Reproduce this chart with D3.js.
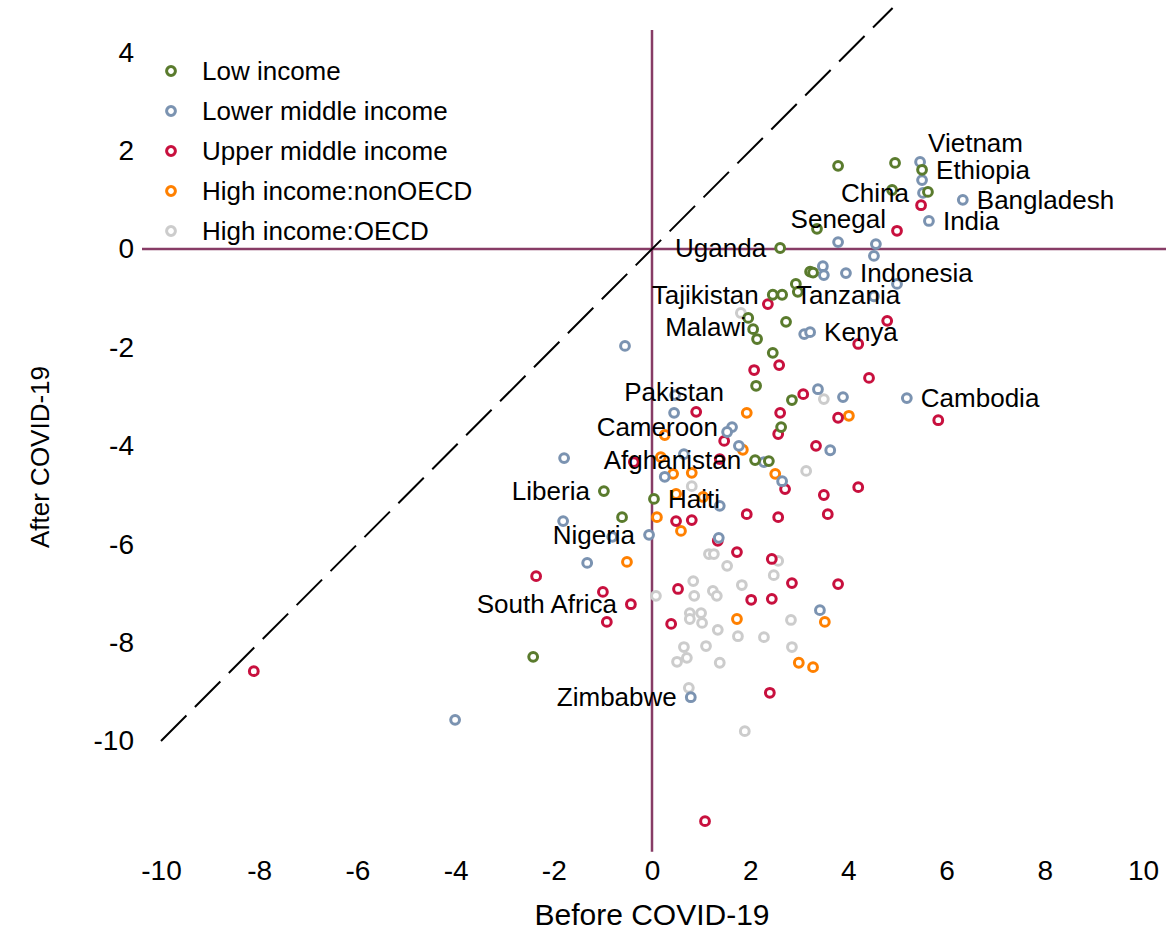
<!DOCTYPE html>
<html>
<head>
<meta charset="utf-8">
<script src="https://cdn.jsdelivr.net/npm/d3@7"></script>
<style>
  body { margin: 0; background: #fff; }
  text { font-family: "Liberation Sans", Arial, sans-serif; fill: #000; }
</style>
</head>
<body>
<div id="svg-container"></div>
<script>
// growth before / after COVID-19, one array per income group: [before, after]
var lowIncome = [
  [3.79, 1.69], [4.95, 1.75], [5.50, 1.61], [4.89, 1.20], [5.62, 1.16],
  [3.36, 0.41], [2.61, 0.02], [3.22, -0.46], [3.28, -0.48], [2.93, -0.71],
  [2.97, -0.87], [2.46, -0.93], [2.65, -0.93], [1.96, -1.40], [2.06, -1.63],
  [2.14, -1.83], [2.73, -1.48], [2.46, -2.11], [2.12, -2.78], [2.85, -3.07],
  [2.63, -3.62], [2.10, -4.29], [2.38, -4.31], [0.04, -5.08], [-0.98, -4.92],
  [-0.61, -5.45], [-2.42, -8.29]
];
var lowerMiddle = [
  [5.46, 1.77], [5.50, 1.40], [5.52, 1.14], [6.33, 1.00], [5.64, 0.57],
  [3.79, 0.14], [4.56, 0.10], [4.52, -0.14], [3.48, -0.35], [3.50, -0.53],
  [3.95, -0.49], [4.99, -0.71], [4.52, -0.96], [3.10, -1.73], [3.22, -1.69],
  [-0.55, -1.97], [3.38, -2.85], [3.89, -3.01], [5.19, -3.03], [0.47, -2.97],
  [0.45, -3.33], [1.63, -3.62], [1.53, -3.72], [1.77, -4.00], [2.28, -4.33],
  [3.63, -4.09], [2.65, -4.72], [0.65, -4.17], [0.26, -4.63], [1.38, -5.22],
  [-1.79, -4.25], [-1.81, -5.53], [-0.81, -5.85], [-0.06, -5.81], [-1.32, -6.38],
  [1.36, -5.87], [3.42, -7.34], [0.79, -9.11], [-4.01, -9.57]
];
var upperMiddle = [
  [5.48, 0.89], [4.99, 0.37], [2.36, -1.12], [4.79, -1.46], [4.20, -1.93],
  [2.08, -2.46], [2.59, -2.36], [4.42, -2.62], [3.08, -2.95], [0.90, -3.31],
  [2.61, -3.33], [3.79, -3.43], [5.83, -3.48], [2.57, -3.76], [1.47, -3.90],
  [3.34, -4.00], [-0.37, -4.33], [1.38, -4.27], [2.71, -4.88], [3.50, -5.00],
  [4.20, -4.84], [3.58, -5.39], [1.93, -5.39], [2.57, -5.45], [0.49, -5.53],
  [0.81, -5.51], [1.34, -5.93], [1.73, -6.16], [2.44, -6.30], [2.85, -6.79],
  [3.79, -6.81], [0.53, -6.91], [2.02, -7.13], [2.44, -7.11], [0.39, -7.62],
  [-2.36, -6.65], [-1.00, -6.97], [-0.43, -7.22], [-0.92, -7.58], [2.40, -9.02],
  [-8.11, -8.58], [1.08, -11.63]
];
var highNonOECD = [
  [1.93, -3.33], [4.01, -3.39], [0.26, -3.78], [1.85, -4.08], [0.18, -4.23],
  [2.51, -4.57], [0.43, -4.57], [0.81, -4.55], [0.49, -4.98], [1.04, -5.04],
  [0.10, -5.45], [0.59, -5.73], [-0.51, -6.36], [1.73, -7.52], [3.52, -7.58],
  [2.99, -8.41], [3.28, -8.50]
];
var highOECD = [
  [1.81, -1.30], [3.50, -3.05], [3.14, -4.51], [0.81, -4.82], [0.08, -7.05],
  [1.16, -6.20], [1.26, -6.20], [1.53, -6.44], [2.57, -6.34], [2.48, -6.63],
  [0.84, -6.75], [1.83, -6.83], [0.86, -7.05], [1.24, -6.95], [1.32, -7.05],
  [0.77, -7.40], [1.00, -7.40], [1.02, -7.60], [0.77, -7.52], [1.34, -7.74],
  [1.75, -7.87], [2.28, -7.89], [2.83, -7.54], [2.85, -8.09], [0.65, -8.09],
  [0.71, -8.31], [0.51, -8.39], [1.10, -8.07], [1.38, -8.41], [0.75, -8.92],
  [1.89, -9.80]
];

var groupNames = ["Low income", "Lower middle income", "Upper middle income",
                  "High income:nonOECD", "High income:OECD"];
var groupColors = ["#5a7b2d", "#7b93b1", "#c8103e", "#ff8000", "#cccccc"];

// labelled countries: name, before, after, clock position of the label
var labelNames = ["Vietnam", "Ethiopia", "China", "Bangladesh", "India", "Senegal",
  "Uganda", "Indonesia", "Tajikistan", "Tanzania", "Malawi", "Kenya", "Pakistan",
  "Cambodia", "Cameroon", "Afghanistan", "Liberia", "Haiti", "Nigeria",
  "South Africa", "Zimbabwe"];
var labelX = [5.46, 5.50, 5.52, 6.33, 5.64, 4.99, 2.61, 3.95, 2.46, 2.65, 2.14, 3.22,
  0.45, 5.19, 1.63, 2.10, -0.98, 0.04, -0.06, -0.43, 0.79];
var labelY = [1.77, 1.61, 1.14, 1.00, 0.57, 0.37, 0.02, -0.49, -0.93, -0.93, -1.83, -1.69,
  -3.33, -3.03, -3.62, -4.29, -4.92, -5.08, -5.81, -7.22, -9.11];
var labelPos = [1, 3, 9, 3, 3, 10, 9, 3, 9, 3, 10, 3, 12, 3, 9, 9, 9, 3, 9, 9, 9];

var xTicks = [-10, -8, -6, -4, -2, 0, 2, 4, 6, 8, 10];
var yTicks = [4, 2, 0, -2, -4, -6, -8, -10];

var width = 1166, height = 932;

var svg = d3.select("#svg-container")
            .append("svg")
            .attr("width", width)
            .attr("height", height);

var x = d3.scaleLinear().domain([-10, 10]).range([161, 1143]);
var y = d3.scaleLinear().domain([0, -10]).range([249, 741]);

// zero lines
svg.append("line")
   .attr("x1", x(0)).attr("x2", x(0))
   .attr("y1", y(4.45)).attr("y2", y(-12.25))
   .attr("stroke", "#873c66").attr("stroke-width", 2.5);
svg.append("line")
   .attr("x1", 142).attr("x2", width)
   .attr("y1", y(0)).attr("y2", y(0))
   .attr("stroke", "#873c66").attr("stroke-width", 2.5);

// 45 degree line
svg.append("line")
   .attr("x1", x(-10)).attr("y1", y(-10))
   .attr("x2", x(4.9)).attr("y2", y(4.9))
   .attr("stroke", "#000").attr("stroke-width", 2)
   .attr("stroke-dasharray", "36,12");

// axes (labels only)
var xAxis = svg.append("g")
   .attr("transform", "translate(0,870)")
   .call(d3.axisBottom(x).tickValues(xTicks).tickSize(0).tickPadding(0)
           .tickFormat(function(d) { return String(d); }));
xAxis.select(".domain").remove();
xAxis.selectAll("text")
   .attr("dy", "0.35em").attr("y", 0)
   .style("font-size", "28px").style("font-family", "'Liberation Sans', Arial, sans-serif");

var yAxis = svg.append("g")
   .attr("transform", "translate(134,0)")
   .call(d3.axisLeft(y).tickValues(yTicks).tickSize(0).tickPadding(0)
           .tickFormat(function(d) { return String(d); }));
yAxis.select(".domain").remove();
yAxis.selectAll("text")
   .style("font-size", "28px").style("font-family", "'Liberation Sans', Arial, sans-serif");

svg.append("text")
   .attr("x", x(0)).attr("y", 914)
   .attr("dy", "0.35em")
   .attr("text-anchor", "middle")
   .style("font-size", "30px")
   .text("Before COVID-19");

svg.append("text")
   .attr("transform", "translate(40,457) rotate(-90)")
   .attr("dy", "0.35em")
   .attr("text-anchor", "middle")
   .style("font-size", "26px")
   .text("After COVID-19");

// points
var groups = [highOECD, highNonOECD, upperMiddle, lowerMiddle, lowIncome];
var groupIdx = [4, 3, 2, 1, 0];

groups.forEach(function(data, k) {
  svg.append("g")
     .selectAll("circle")
     .data(data)
     .enter()
     .append("circle")
     .attr("cx", function(d) { return x(d[0]); })
     .attr("cy", function(d) { return y(d[1]); })
     .attr("r", 4.4)
     .attr("fill", "#fff")
     .attr("stroke", groupColors[groupIdx[k]])
     .attr("stroke-width", 3);
});

// country labels, placed by clock position
var gap = 14;
function labelOffset(p) {
  if (p == 3) return { dx: gap, dy: 0, anchor: "start" };
  if (p == 9) return { dx: -gap, dy: 0, anchor: "end" };
  if (p == 12) return { dx: 0, dy: -21, anchor: "middle" };
  if (p == 1) return { dx: 8, dy: -19, anchor: "start" };
  if (p == 10) return { dx: -11, dy: -12, anchor: "end" };
  return { dx: 0, dy: 0, anchor: "middle" };
}

var labels = labelNames.map(function(n, i) {
  return { name: n, x: labelX[i], y: labelY[i], pos: labelPos[i] };
});

svg.append("g")
   .selectAll("text")
   .data(labels)
   .enter()
   .append("text")
   .attr("x", function(d) { return x(d.x) + labelOffset(d.pos).dx; })
   .attr("y", function(d) { return y(d.y) + labelOffset(d.pos).dy; })
   .attr("dy", "0.35em")
   .attr("text-anchor", function(d) { return labelOffset(d.pos).anchor; })
   .style("font-size", "26px")
   .text(function(d) { return d.name; });

// legend
var legend = svg.append("g").attr("transform", "translate(171,71)");
var rows = legend.selectAll("g")
   .data(groupNames)
   .enter()
   .append("g")
   .attr("transform", function(d, i) { return "translate(0," + (i * 40) + ")"; });
rows.append("circle")
   .attr("r", 4.4)
   .attr("fill", "#fff")
   .attr("stroke", function(d, i) { return groupColors[i]; })
   .attr("stroke-width", 3);
rows.append("text")
   .attr("x", 31)
   .attr("dy", "0.35em")
   .style("font-size", "26px")
   .text(function(d) { return d; });
</script>
</body>
</html>
